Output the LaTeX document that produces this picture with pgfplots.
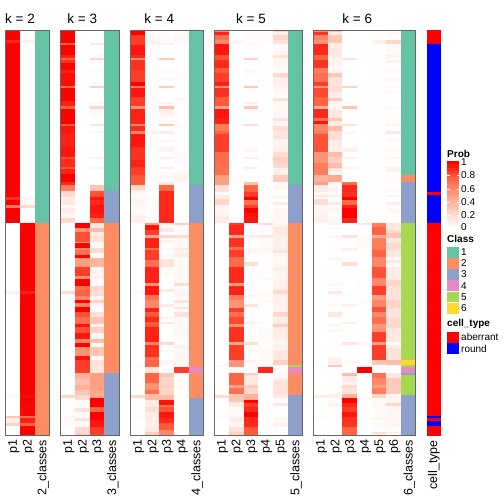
\documentclass[border=0pt]{standalone}
\usepackage{pgfplots}
\pgfplotsset{compat=1.18}
\usepackage{fontspec}
\setmainfont{Liberation Sans}
\definecolor{c1}{HTML}{66C2A5}
\definecolor{c2}{HTML}{FC8D62}
\definecolor{c3}{HTML}{8DA0CB}
\definecolor{c4}{HTML}{E78AC3}
\definecolor{c5}{HTML}{A6D854}
\definecolor{c6}{HTML}{FFD92F}
\definecolor{bd}{HTML}{666666}
\pgfplotsset{
 colormap={wr}{rgb255=(255,255,255) rgb255=(255,208,193) rgb255=(255,158,129) rgb255=(255,101,68) rgb255=(255,0,0)},
 hm/.style={mesh,shader=flat corner,point meta=explicit,line width=14.9pt,line cap=butt,forget plot},
 panel/.style={
  scale only axis,anchor=south west,height=405.7pt,
  y dir=reverse,ymin=90,ymax=1307,
  colormap name=wr,point meta min=0,point meta max=100,
  ytick=\empty,xmin=0,
  xticklabel pos=lower,
  major tick length=0pt,
  xticklabel style={rotate=90,anchor=east,inner sep=0pt,xshift=-4pt,yshift=-1pt,font=\fontsize{12.5}{14}\selectfont},
  axis line style={bd,line width=0.9pt},axis on top,
 }
}
% one column of a panel; y is the image row x 3, the value is the probability in percent
\newcommand\col[2]{\addplot[hm] table[x expr=#1,y index=0,meta index=1,row sep=\\,header=false]{#2\\};}
\newcommand\colb[2]{\addplot[hm] table[x expr=#1,y expr=\thisrowno{0}+750,meta index=1,row sep=\\,header=false]{#2\\};}
\newcommand\cls[5]{\addplot[fill=#5,draw=none,forget plot] coordinates {(#1,#3)(#2,#3)(#2,#4)(#1,#4)} --cycle;}
\begin{document}
\begin{tikzpicture}[x=1pt,y=1pt]
\path[use as bounding box] (0,0) rectangle (504,504);
% ---------------- k=2
\begin{axis}[panel,at={(5.5pt,68.3pt)},width=43.9pt,xmax=3,xtick={0.5,1.5,2.5},xticklabels={p1,p2,2\_classes}]
\col{0.5}{90 100\\120 90\\130 100\\590 88\\600 100\\615 65\\625 100\\669 0\\750 0}
\colb{0.5}{0 0\\122 8\\132 0\\435 3\\443 0\\498 30\\505 8\\518 25\\528 0\\557 0}
\col{1.5}{90 0\\120 8\\130 0\\590 5\\600 2\\615 22\\625 1\\640 0\\669 100\\750 100}
\colb{1.5}{0 100\\122 92\\132 100\\435 97\\443 100\\460 99\\498 70\\505 92\\518 75\\528 100\\557 100}
\cls{2}{3}{90}{669}{c1}
\cls{2}{3}{669}{1307}{c2}
\end{axis}
% ---------------- k=3
\begin{axis}[panel,at={(60.5pt,68.3pt)},width=58.6pt,xmax=4,xtick={0.5,1.5,2.5,3.5},xticklabels={p1,p2,p3,3\_classes}]
\col{0.5}{90 100\\128 75\\135 100\\165 92\\175 75\\180 88\\190 100\\210 92\\220 97\\257 70\\263 100\\303 92\\318 75\\328 100\\372 78\\378 95\\400 92\\440 95\\470 80\\478 90\\500 78\\508 92\\522 100\\545 90\\555 65\\574 20\\590 5\\598 12\\615 2\\625 10\\640 5\\655 20\\669 0\\750 0}
\colb{0.5}{0 0\\122 18\\132 0\\435 22\\443 1\\498 6\\505 3\\528 1\\557 0}
\col{1.5}{90 0\\669 100\\683 55\\697 80\\725 50\\730 100\\745 60\\750 60}
\colb{1.5}{0 70\\15 100\\25 50\\50 85\\78 55\\88 100\\108 70\\120 75\\138 60\\150 100\\160 60\\170 100\\185 80\\200 70\\222 95\\232 80\\248 95\\268 60\\280 100\\292 55\\318 95\\330 85\\348 85\\370 40\\388 32\\405 40\\420 30\\435 20\\450 2\\475 15\\485 3\\503 15\\513 3\\530 20\\548 25\\557 0}
\col{2.5}{90 0\\128 12\\135 0\\165 4\\170 0\\175 20\\180 4\\188 0\\210 3\\218 0\\257 25\\263 0\\305 4\\312 0\\318 22\\328 4\\345 0\\372 16\\378 0\\392 4\\400 0\\472 8\\478 0\\502 8\\507 0\\555 30\\574 80\\590 95\\600 90\\615 95\\640 92\\655 75\\669 12\\683 35\\697 10\\705 15\\725 5\\730 3\\745 20\\750 20}
\colb{2.5}{0 20\\10 3\\25 38\\50 5\\78 8\\88 2\\108 22\\120 18\\138 5\\150 25\\160 5\\170 0\\185 15\\200 30\\222 3\\232 25\\248 5\\268 35\\280 3\\292 30\\318 3\\330 15\\348 13\\370 50\\420 45\\445 100\\470 75\\485 100\\510 95\\530 85\\557 0}
\cls{3}{4}{90}{574}{c1}
\cls{3}{4}{574}{669}{c3}
\cls{3}{4}{669}{1120}{c2}
\cls{3}{4}{1120}{1307}{c3}
\end{axis}
% ---------------- k=4
\begin{axis}[panel,at={(130.3pt,68.3pt)},width=73.1pt,xmax=5,xtick={0.5,1.5,2.5,3.5,4.5},xticklabels={p1,p2,p3,p4,4\_classes}]
\col{0.5}{90 100\\105 85\\135 95\\165 90\\175 55\\180 88\\210 85\\245 100\\257 65\\263 95\\290 85\\318 55\\328 92\\372 60\\378 90\\392 60\\402 95\\440 88\\480 92\\500 85\\525 78\\555 22\\570 8\\580 3\\598 6\\615 3\\645 8\\669 0\\750 0}
\colb{0.5}{0 0\\122 3\\132 0\\345 3\\350 0\\435 22\\443 0\\498 3\\503 0\\557 0}
\col{1.5}{90 0\\105 2\\120 8\\133 2\\140 0\\165 3\\172 0\\392 6\\402 0\\525 2\\545 0\\590 2\\669 50\\675 95\\690 85\\705 45\\715 92\\745 70\\750 70}
\colb{1.5}{0 85\\30 70\\50 92\\100 55\\108 95\\135 70\\150 60\\175 92\\185 78\\200 90\\215 78\\230 92\\275 60\\285 88\\320 70\\330 75\\350 15\\370 75\\400 55\\420 70\\433 35\\450 10\\470 18\\485 10\\520 8\\530 12\\545 28\\557 0}
\col{2.5}{90 0\\100 2\\130 8\\135 1\\165 3\\175 28\\180 3\\190 0\\210 2\\220 0\\235 5\\243 0\\257 28\\263 0\\305 8\\312 0\\318 35\\328 8\\345 3\\372 28\\378 1\\392 10\\402 1\\420 5\\425 1\\440 8\\455 1\\470 10\\478 1\\502 10\\507 1\\515 4\\530 1\\545 12\\555 75\\574 90\\669 5\\680 1\\683 12\\697 1\\705 22\\715 2\\720 7\\730 0\\745 5\\750 5}
\colb{2.5}{0 1\\15 5\\25 1\\27 15\\50 3\\80 0\\118 12\\125 0\\162 12\\172 0\\200 8\\208 0\\215 12\\222 0\\275 20\\285 0\\300 5\\305 0\\330 5\\345 0\\370 30\\380 22\\405 25\\415 22\\435 35\\450 95\\465 70\\470 80\\485 95\\505 90\\520 78\\540 60\\557 0}
\col{3.5}{90 2\\103 4\\130 1\\220 3\\230 1\\293 4\\303 1\\360 2\\378 4\\385 1\\455 3\\490 1\\515 6\\545 2\\555 0\\669 25\\675 3\\705 20\\713 3\\745 10\\750 10}
\colb{3.5}{0 5\\10 10\\20 3\\68 5\\75 2\\85 5\\92 2\\100 18\\108 2\\120 5\\140 2\\150 15\\160 2\\170 15\\178 2\\185 15\\200 3\\230 5\\260 2\\285 8\\295 4\\345 0\\350 85\\368 0\\370 2\\400 3\\420 0\\460 2\\465 0\\557 0}
\cls{4}{5}{90}{555}{c1}
\cls{4}{5}{555}{669}{c3}
\cls{4}{5}{669}{1100}{c2}
\cls{4}{5}{1100}{1119}{c4}
\cls{4}{5}{1119}{1193}{c2}
\cls{4}{5}{1193}{1307}{c3}
\end{axis}
% ---------------- k=5
\begin{axis}[panel,at={(214.3pt,68.3pt)},width=88pt,xmax=6,xtick={0.5,1.5,2.5,3.5,4.5,5.5},xticklabels={p1,p2,p3,p4,p5,5\_classes}]
\col{0.5}{90 60\\96 92\\105 70\\120 60\\133 95\\165 80\\180 90\\205 78\\220 85\\245 92\\257 55\\263 88\\290 78\\318 45\\328 95\\355 92\\372 65\\392 75\\402 85\\455 72\\490 70\\525 50\\555 15\\575 3\\585 10\\598 22\\615 5\\645 10\\669 0\\750 0}
\colb{0.5}{0 0\\345 3\\350 0\\435 18\\443 0\\498 3\\503 0\\557 0}
\col{1.5}{90 0\\120 5\\133 0\\525 2\\555 0\\669 85\\675 90\\705 45\\715 88\\740 70\\750 70}
\colb{1.5}{0 85\\20 72\\50 90\\100 50\\108 92\\135 65\\150 55\\175 85\\185 70\\200 82\\222 55\\232 88\\275 45\\285 85\\330 55\\350 3\\370 75\\405 50\\415 70\\433 30\\455 10\\470 3\\500 10\\515 5\\530 15\\545 25\\557 0}
\col{2.5}{90 0\\100 2\\130 4\\135 1\\165 3\\172 0\\175 25\\180 1\\210 5\\218 1\\257 30\\263 1\\305 8\\312 1\\318 30\\328 1\\372 18\\378 1\\445 5\\455 1\\470 10\\478 1\\502 10\\507 1\\545 32\\555 75\\575 85\\590 100\\600 70\\615 85\\625 100\\640 95\\669 3\\680 1\\705 8\\713 1\\745 6\\750 6}
\colb{2.5}{0 5\\10 1\\35 18\\48 1\\135 5\\145 1\\162 15\\170 1\\215 8\\222 1\\275 18\\285 1\\300 4\\305 1\\330 5\\345 0\\370 28\\375 12\\405 28\\415 20\\433 40\\450 100\\460 85\\470 90\\485 100\\500 90\\530 78\\557 0}
\col{3.5}{90 0\\100 2\\130 1\\555 0\\669 18\\675 2\\705 12\\713 3\\745 6\\750 6}
\colb{3.5}{0 3\\10 1\\60 3\\70 1\\80 3\\90 1\\120 3\\145 1\\150 3\\160 1\\230 3\\280 1\\290 3\\340 1\\350 90\\368 0\\557 0}
\col{4.5}{90 25\\96 8\\105 22\\120 15\\133 2\\142 4\\165 15\\175 5\\200 2\\218 22\\232 8\\262 5\\275 3\\293 15\\303 4\\355 15\\362 5\\378 18\\392 12\\405 15\\418 6\\440 8\\455 18\\470 25\\490 20\\505 8\\525 28\\545 3\\555 4\\570 0\\585 6\\598 1\\605 10\\615 1\\625 5\\669 5\\680 12\\705 8\\750 8}
\colb{4.5}{0 15\\10 4\\35 5\\50 10\\60 6\\78 5\\90 8\\120 20\\133 8\\180 5\\185 22\\200 5\\205 10\\222 25\\232 10\\270 5\\285 8\\295 5\\300 12\\330 25\\345 0\\370 4\\385 8\\390 15\\433 12\\443 1\\458 12\\468 1\\500 4\\520 8\\530 1\\545 3\\557 0}
\cls{5}{6}{90}{555}{c1}
\cls{5}{6}{555}{669}{c3}
\cls{5}{6}{669}{1095}{c2}
\cls{5}{6}{1095}{1101}{c5}
\cls{5}{6}{1101}{1119}{c4}
\cls{5}{6}{1119}{1185}{c2}
\cls{5}{6}{1185}{1307}{c3}
\end{axis}
% ---------------- k=6
\begin{axis}[panel,at={(313.3pt,68.3pt)},width=102.4pt,xmax=7,xtick={0.5,1.5,2.5,3.5,4.5,5.5,6.5},xticklabels={p1,p2,p3,p4,p5,p6,6\_classes}]
\col{0.5}{90 60\\96 88\\105 60\\120 55\\133 90\\165 75\\180 88\\205 65\\220 70\\245 85\\257 50\\263 82\\290 75\\318 40\\328 90\\355 70\\362 95\\372 60\\392 65\\402 80\\455 55\\490 65\\525 40\\545 50\\555 10\\575 3\\585 12\\590 1\\598 18\\615 5\\645 8\\669 0\\750 0}
\colb{0.5}{0 0\\345 3\\350 0\\435 10\\445 0\\498 3\\503 0\\557 0}
\col{1.5}{90 30\\96 12\\105 30\\130 8\\142 12\\165 10\\175 6\\200 1\\205 6\\218 30\\232 15\\262 18\\275 10\\293 28\\303 4\\330 12\\355 30\\362 10\\378 35\\392 18\\420 10\\440 8\\455 35\\470 25\\490 35\\505 12\\515 3\\525 45\\545 5\\555 2\\565 5\\575 1\\585 8\\590 1\\605 10\\615 1\\625 5\\640 1\\650 4\\669 6\\675 1\\680 3\\690 1\\705 5\\715 1\\750 1}
\colb{1.5}{0 1\\20 5\\30 1\\100 4\\108 1\\122 12\\132 1\\160 3\\170 1\\185 12\\200 1\\222 5\\230 1\\240 5\\245 1\\320 8\\345 30\\350 0\\370 1\\433 8\\445 2\\460 6\\470 1\\557 0}
\col{2.5}{90 0\\128 3\\135 0\\175 15\\180 0\\210 3\\218 0\\257 25\\263 0\\305 3\\312 0\\318 30\\328 0\\372 15\\378 0\\392 4\\402 0\\445 8\\455 0\\470 8\\478 0\\502 8\\507 0\\545 70\\555 90\\575 88\\590 100\\600 72\\615 92\\625 100\\655 92\\669 0\\705 15\\713 0\\745 10\\750 10}
\colb{2.5}{0 4\\5 0\\35 18\\48 0\\135 3\\140 0\\162 8\\170 0\\215 8\\222 0\\275 14\\285 0\\330 3\\345 0\\370 35\\378 10\\395 5\\405 20\\415 15\\433 40\\445 100\\460 90\\470 85\\485 95\\500 88\\530 75\\557 0}
\col{3.5}{90 0\\669 12\\675 1\\705 3\\745 1\\750 1}
\colb{3.5}{0 1\\60 3\\70 1\\100 2\\110 1\\150 3\\165 1\\275 5\\285 1\\350 100\\368 0\\557 0}
\col{4.5}{90 0\\120 8\\133 1\\555 0\\669 65\\680 75\\705 40\\715 65\\750 65}
\colb{4.5}{0 75\\20 60\\50 80\\85 60\\108 85\\135 50\\150 60\\170 80\\185 60\\200 70\\222 55\\245 85\\275 50\\285 85\\330 30\\345 0\\370 70\\385 60\\405 50\\415 65\\433 22\\445 4\\470 3\\500 5\\510 1\\515 3\\530 1\\545 18\\552 2\\557 0}
\col{5.5}{90 0\\96 4\\105 1\\120 22\\133 3\\165 8\\175 1\\180 8\\190 1\\205 3\\215 1\\235 5\\243 1\\257 3\\263 1\\270 3\\280 1\\318 3\\328 1\\360 3\\370 1\\372 6\\378 1\\392 12\\402 1\\415 4\\425 1\\445 3\\455 1\\470 6\\478 1\\500 8\\515 1\\525 2\\545 0\\560 3\\575 0\\585 6\\592 0\\605 8\\615 0\\625 4\\640 0\\669 12\\690 20\\700 30\\715 12\\730 20\\750 20}
\colb{5.5}{0 12\\20 3\\30 12\\40 3\\50 10\\90 22\\108 15\\150 22\\175 15\\200 20\\235 12\\275 3\\285 10\\295 15\\330 35\\345 0\\370 12\\385 28\\433 6\\445 5\\458 22\\468 5\\515 2\\520 6\\530 2\\545 8\\552 2\\557 0}
\cls{6}{7}{90}{525}{c1}
\cls{6}{7}{525}{546}{c2}
\cls{6}{7}{546}{669}{c3}
\cls{6}{7}{669}{1080}{c5}
\cls{6}{7}{1080}{1095}{c6}
\cls{6}{7}{1095}{1101}{c5}
\cls{6}{7}{1101}{1119}{c4}
\cls{6}{7}{1119}{1125}{c3}
\cls{6}{7}{1125}{1185}{c5}
\cls{6}{7}{1185}{1307}{c3}
\end{axis}
% ---------------- cell_type, legends, titles (axis units are image pixels)
\begin{axis}[at={(0pt,0pt)},anchor=south west,scale only axis,width=504pt,height=504pt,hide axis,
 xmin=0,xmax=504,ymin=0,ymax=504,y dir=reverse,clip=false,
 colormap name=wr,point meta min=0,point meta max=100]
\cls{427}{441}{30}{44}{red}
\cls{427}{441}{44}{192}{blue}
\cls{427}{441}{192}{195}{red}
\cls{427}{441}{195}{223}{blue}
\cls{427}{441}{223}{415.7}{red}
\cls{427}{441}{415.7}{417.7}{blue}
\cls{427}{441}{417.7}{421}{red}
\cls{427}{441}{421}{426}{blue}
\cls{427}{441}{426}{436}{red}
\addplot[mesh,shader=flat corner,point meta=explicit,line width=12.5pt,line cap=butt,forget plot] table[x expr=453,y index=0,meta index=1,row sep=\\,header=false]
{161 100\\164.3 95\\167.5 90\\170.8 85\\174 80\\177.3 75\\180.5 70\\183.8 65\\187 60\\190.3 55\\193.5 50\\196.8 45\\200 40\\203.3 35\\206.5 30\\209.8 25\\213 20\\216.3 15\\219.5 10\\222.8 5\\226 0\\227 0\\};
\foreach \yy in {175.5,188.7,201.7,214.7}{
 \edef\tmp{\noexpand\addplot[white,line width=0.4pt,forget plot] coordinates {(447,\yy)(449.5,\yy)};
 \noexpand\addplot[white,line width=0.4pt,forget plot] coordinates {(456.5,\yy)(459,\yy)};}\tmp}
\cls{447}{458.5}{247}{257.7}{c1}
\cls{447}{458.5}{258}{268.7}{c2}
\cls{447}{458.5}{269}{279.7}{c3}
\cls{447}{458.5}{280.3}{291}{c4}
\cls{447}{458.5}{291.6}{302.3}{c5}
\cls{447}{458.5}{302.8}{313.5}{c6}
\cls{447}{458.5}{332}{342.7}{red}
\cls{447}{458.5}{343.3}{354}{blue}
\tikzset{tl/.style={anchor=west,inner sep=0pt,font=\fontsize{10}{11}\selectfont},
 th/.style={anchor=west,inner sep=0pt,font=\fontsize{10}{11}\bfseries\selectfont},
 tt/.style={inner sep=0pt,font=\fontsize{13.5}{16}\selectfont}}
\node[th] at (axis cs:447,153.5) {Prob};
\node[tl] at (axis cs:461,162.5) {1};
\node[tl] at (axis cs:461,175.5) {0.8};
\node[tl] at (axis cs:461,188.7) {0.6};
\node[tl] at (axis cs:461,201.7) {0.4};
\node[tl] at (axis cs:461,214.7) {0.2};
\node[tl] at (axis cs:461,227) {0};
\node[th] at (axis cs:447,239) {Class};
\node[tl] at (axis cs:461,252.3) {1};
\node[tl] at (axis cs:461,263.3) {2};
\node[tl] at (axis cs:461,274.3) {3};
\node[tl] at (axis cs:461,286) {4};
\node[tl] at (axis cs:461,297) {5};
\node[tl] at (axis cs:461,308.3) {6};
\node[th] at (axis cs:447,324) {cell\_type};
\node[tl] at (axis cs:461,337.3) {aberrant};
\node[tl] at (axis cs:461,349) {round};
\node[tt] at (axis cs:20,18.3) {k = 2};
\node[tt] at (axis cs:82.3,18.3) {k = 3};
\node[tt] at (axis cs:159.3,18.3) {k = 4};
\node[tt] at (axis cs:251,18.3) {k = 5};
\node[tt] at (axis cs:357.3,18.3) {k = 6};
\node[rotate=90,anchor=east,inner sep=0pt,font=\fontsize{12.5}{14}\selectfont] at (axis cs:434,440) {cell\_type};
\end{axis}
\end{tikzpicture}
\end{document}
